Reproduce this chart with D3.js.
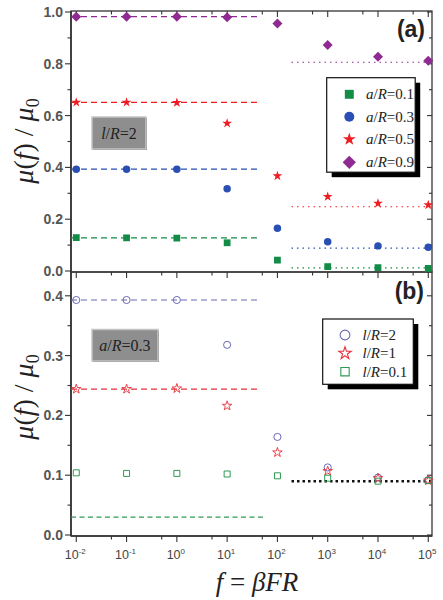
<!DOCTYPE html>
<html>
<head>
<meta charset="utf-8">
<script src="https://cdn.jsdelivr.net/npm/d3@7"></script>
<style>
html,body{margin:0;padding:0;background:#fff;}
svg{display:block;}
</style>
</head>
<body>
<svg id="chart" width="443" height="600"></svg>
<script>
// ---------- DATA ----------
const xValues = [1e-2, 1e-1, 1e0, 1e1, 1e2, 1e3, 1e4, 1e5];
const xTickExponents = [-2, -1, 0, 1, 2, 3, 4, 5];

// Panel (a): l/R = 2
const seriesANames = ["a/R=0.1", "a/R=0.3", "a/R=0.5", "a/R=0.9"];
const aR01 = [0.129, 0.128, 0.127, 0.109, 0.042, 0.017, 0.013, 0.010];
const aR03 = [0.393, 0.393, 0.393, 0.318, 0.165, 0.113, 0.097, 0.092];
const aR05 = [0.651, 0.651, 0.650, 0.570, 0.367, 0.287, 0.261, 0.255];
const aR09 = [0.982, 0.982, 0.982, 0.980, 0.956, 0.873, 0.827, 0.812];
const lowLimitA = [0.128, 0.393, 0.651, 0.982];
const highLimitA = [0.012, 0.088, 0.248, 0.806];
const yTicksA = [0.0, 0.2, 0.4, 0.6, 0.8, 1.0];

// Panel (b): a/R = 0.3
const seriesBNames = ["l/R=2", "l/R=1", "l/R=0.1"];
const lR2 = [0.393, 0.393, 0.393, 0.318, 0.164, 0.113, 0.096, 0.092];
const lR1 = [0.244, 0.244, 0.245, 0.216, 0.138, 0.107, 0.095, 0.091];
const lR01 = [0.104, 0.103, 0.103, 0.102, 0.099, 0.095, 0.090, 0.091];
const lowLimitB = [0.393, 0.244, 0.030];
const highLimitB = 0.090;
const yTicksB = [0.0, 0.1, 0.2, 0.3, 0.4];

// ---------- LAYOUT ----------
const svg = d3.select("#chart");
const L = 71, R = 432;
const topA = 11, botA = 272, botB = 536;

const x = d3.scaleLog().domain([Math.pow(10, -2.105), Math.pow(10, 5.074)]).range([L, R]);
const yA = d3.scaleLinear().domain([0, 1]).range([271, 12]);
const yB = d3.scaleLinear().domain([0, 0.4]).range([535, 295.8]);

const lowEnd = Math.pow(10, 1.67), highStart = Math.pow(10, 2.28);

const colA = ["#138c47", "#2a4fb3", "#f01c24", "#8e2a92"];
const colB = ["#6a6ab8", "#e8303a", "#2f9a55"];

const axisColor = "#333";

// ---------- FRAMES & TICKS ----------
function frame(y0, y1) {
  svg.append("rect").attr("x", L).attr("y", y0).attr("width", R - L).attr("height", y1 - y0)
    .attr("fill", "none").attr("stroke", axisColor).attr("stroke-width", 1.3);
}
frame(topA, botA);
frame(botA, botB);
// thicker left/bottom
svg.append("line").attr("x1", L).attr("x2", L).attr("y1", topA).attr("y2", botB).attr("stroke", axisColor).attr("stroke-width", 1.6);
svg.append("line").attr("x1", L).attr("x2", R).attr("y1", botB).attr("y2", botB).attr("stroke", axisColor).attr("stroke-width", 1.6);

// x ticks
const xMajor = xTickExponents.map(e => Math.pow(10, e));
const xMinor = xTickExponents.slice(0, -1).map(e => 5 * Math.pow(10, e));
function xTicks(yLine, dir) {
  const g = svg.append("g");
  xMajor.forEach(v => g.append("line").attr("x1", x(v)).attr("x2", x(v)).attr("y1", yLine).attr("y2", yLine + dir * 6).attr("stroke", axisColor).attr("stroke-width", 1.1));
  xMinor.forEach(v => g.append("line").attr("x1", x(v)).attr("x2", x(v)).attr("y1", yLine).attr("y2", yLine + dir * 3.5).attr("stroke", axisColor).attr("stroke-width", 1.1));
}
xTicks(topA, 1);
xTicks(botA, 1);
xTicks(botB, 1);

// y ticks
function yTicks(scale, majors, minorStep, y0, y1) {
  const g = svg.append("g");
  const d = scale.domain();
  majors.forEach(v => {
    g.append("line").attr("x1", L - 6).attr("x2", L).attr("y1", scale(v)).attr("y2", scale(v)).attr("stroke", axisColor).attr("stroke-width", 1.1);
    g.append("line").attr("x1", R - 5).attr("x2", R).attr("y1", scale(v)).attr("y2", scale(v)).attr("stroke", axisColor).attr("stroke-width", 1.1);
  });
  for (let i = 0; i < majors.length - 1; i++) {
    const v = majors[i] + minorStep;
    g.append("line").attr("x1", L - 3.5).attr("x2", L).attr("y1", scale(v)).attr("y2", scale(v)).attr("stroke", axisColor).attr("stroke-width", 1.1);
    g.append("line").attr("x1", R - 3).attr("x2", R).attr("y1", scale(v)).attr("y2", scale(v)).attr("stroke", axisColor).attr("stroke-width", 1.1);
  }
  majors.forEach(v => {
    g.append("text").attr("x", L - 8).attr("y", scale(v) + 5).attr("text-anchor", "end")
      .attr("font-family", "Liberation Sans, Arial, sans-serif").attr("font-size", 14)
      .attr("font-weight", "bold").attr("fill", "#555").text(v.toFixed(1));
  });
}
yTicks(yA, yTicksA, 0.1);
yTicks(yB, yTicksB, 0.05);

// x tick labels
const xl = svg.append("g").attr("font-family", "Liberation Sans, Arial, sans-serif").attr("fill", "#444");
xTickExponents.forEach(e => {
  const t = xl.append("text").attr("x", x(Math.pow(10, e)) - 1).attr("y", 559).attr("text-anchor", "middle").attr("font-size", 12.5);
  t.append("tspan").text("10");
  t.append("tspan").attr("dy", -5).attr("font-size", 8).text(String(e));
});

// ---------- LINES ----------
function hline(scale, v, x0, x1, color, dash, w) {
  svg.append("line").attr("x1", x(x0)).attr("x2", x(x1)).attr("y1", scale(v)).attr("y2", scale(v))
    .attr("stroke", color).attr("stroke-width", w || 1.2).attr("stroke-dasharray", dash);
}
const xLeft = x.domain()[0], xRight = x.domain()[1];
lowLimitA.forEach((v, i) => hline(yA, v, xLeft, lowEnd, colA[i], "6,4"));
highLimitA.forEach((v, i) => hline(yA, v, highStart, xRight, colA[i], "1.5,4"));
lowLimitB.forEach((v, i) => hline(yB, v, xLeft, lowEnd * (i === 2 ? 1.1 : 1), colB[i], i === 2 ? "5,3.5" : "6,4"));
hline(yB, highLimitB, highStart, xRight, "#111", "2.5,3", 2.4);

// ---------- MARKERS ----------
const symSquare = d3.symbol().type(d3.symbolSquare);
const symCircle = d3.symbol().type(d3.symbolCircle);
const symStar = d3.symbol().type(d3.symbolStar);

function drawSeries(scale, vals, gen, size, fill, stroke, sw, rot) {
  const g = svg.append("g");
  vals.forEach((v, i) => {
    g.append("path").attr("d", gen.size(size)())
      .attr("transform", `translate(${x(xValues[i])},${scale(v)}) rotate(${rot || 0})`)
      .attr("fill", fill).attr("stroke", stroke || "none").attr("stroke-width", sw || 0);
  });
}
drawSeries(yA, aR01, symSquare, 46, colA[0]);
drawSeries(yA, aR03, symCircle, 44, colA[1]);
drawSeries(yA, aR05, symStar, 30, colA[2]);
drawSeries(yA, aR09, symSquare, 50, colA[3], null, 0, 45);

drawSeries(yB, lR2, symCircle, 40, "none", colB[0], 1);
drawSeries(yB, lR1, symStar, 28, "none", colB[1], 0.9);
drawSeries(yB, lR01, symSquare, 36, "none", colB[2], 1);

// ---------- LEGENDS ----------
function legendBox(x0, y0, w, h) {
  svg.append("rect").attr("x", x0 + 5).attr("y", y0 + 5).attr("width", w).attr("height", h).attr("fill", "#000");
  svg.append("rect").attr("x", x0).attr("y", y0).attr("width", w).attr("height", h).attr("fill", "#fff").attr("stroke", "#111").attr("stroke-width", 1.2);
}
function legendText(xp, yp, name) {
  const [left, right] = name.split("=");
  const t = svg.append("text").attr("x", xp).attr("y", yp + 5).attr("font-family", "Liberation Serif, Times New Roman, serif").attr("font-size", 15).attr("fill", "#222");
  const parts = left.split("/");
  t.append("tspan").attr("font-style", "italic").text(parts[0]);
  t.append("tspan").text("/");
  t.append("tspan").attr("font-style", "italic").text(parts[1]);
  t.append("tspan").text("=" + right);
}
legendBox(326.7, 77.7, 88.5, 94.5);
const legAY = [94.3, 116.7, 139.3, 162.3];
const legAGen = [[symSquare, 80, 0], [symCircle, 78, 0], [symStar, 52, 0], [symSquare, 88, 45]];
seriesANames.forEach((n, i) => {
  svg.append("path").attr("d", legAGen[i][0].size(legAGen[i][1])())
    .attr("transform", `translate(349.3,${legAY[i]}) rotate(${legAGen[i][2]})`).attr("fill", colA[i]);
  legendText(366, legAY[i], n);
});

legendBox(322.7, 319, 90.6, 65.3);
const legBY = [335, 353.3, 371.7];
const legBGen = [[symCircle, 75], [symStar, 48], [symSquare, 70]];
seriesBNames.forEach((n, i) => {
  svg.append("path").attr("d", legBGen[i][0].size(legBGen[i][1])())
    .attr("transform", `translate(345,${legBY[i]})`).attr("fill", "none").attr("stroke", colB[i]).attr("stroke-width", 1.1);
  legendText(362.5, legBY[i], n);
});

// ---------- PARAMETER BOXES ----------
function paramBox(x0, y0, w, h, name) {
  svg.append("rect").attr("x", x0 + 1).attr("y", y0 + 1).attr("width", w).attr("height", h).attr("fill", "#6a6a6a");
  svg.append("rect").attr("x", x0).attr("y", y0).attr("width", w).attr("height", h).attr("fill", "#8e8e8e").attr("stroke", "#c4c4c4").attr("stroke-width", 1.5);
  const [left, right] = name.split("=");
  const parts = left.split("/");
  const t = svg.append("text").attr("x", x0 + w / 2).attr("y", y0 + h / 2 + 5.5).attr("text-anchor", "middle")
    .attr("font-family", "Liberation Serif, Times New Roman, serif").attr("font-size", 16).attr("fill", "#222");
  t.append("tspan").attr("font-style", "italic").text(parts[0]);
  t.append("tspan").text("/");
  t.append("tspan").attr("font-style", "italic").text(parts[1]);
  t.append("tspan").text("=" + right);
}
paramBox(92, 117, 54, 32, "l/R=2");
paramBox(92, 329.5, 66, 31.5, "a/R=0.3");

// ---------- PANEL LABELS ----------
svg.append("text").attr("x", 425).attr("y", 37).attr("text-anchor", "end").attr("font-family", "Liberation Sans, Arial, sans-serif")
  .attr("font-size", 23).attr("font-weight", "bold").attr("fill", "#222").text("(a)");
svg.append("text").attr("x", 424).attr("y", 299).attr("text-anchor", "end").attr("font-family", "Liberation Sans, Arial, sans-serif")
  .attr("font-size", 23).attr("font-weight", "bold").attr("fill", "#222").text("(b)");

// ---------- AXIS TITLES ----------
function yTitle(cy) {
  const t = svg.append("text").attr("transform", `translate(33,${cy}) rotate(-90)`).attr("text-anchor", "middle")
    .attr("font-family", "Liberation Serif, Times New Roman, serif").attr("font-size", 28).attr("fill", "#222");
  t.append("tspan").attr("font-style", "italic").text("μ");
  t.append("tspan").text("(");
  t.append("tspan").attr("font-style", "italic").text("f");
  t.append("tspan").text(") / ");
  t.append("tspan").attr("font-style", "italic").text("μ");
  t.append("tspan").attr("dy", 6).attr("font-size", 18).text("0");
}
yTitle(141);
yTitle(397);

const xt = svg.append("text").attr("x", 257).attr("y", 591).attr("text-anchor", "middle")
  .attr("font-family", "Liberation Serif, Times New Roman, serif").attr("font-size", 27).attr("font-style", "italic").attr("fill", "#222");
xt.append("tspan").text("f");
xt.append("tspan").attr("font-style", "normal").text(" = ");
xt.append("tspan").text("βFR");
</script>
</body>
</html>
